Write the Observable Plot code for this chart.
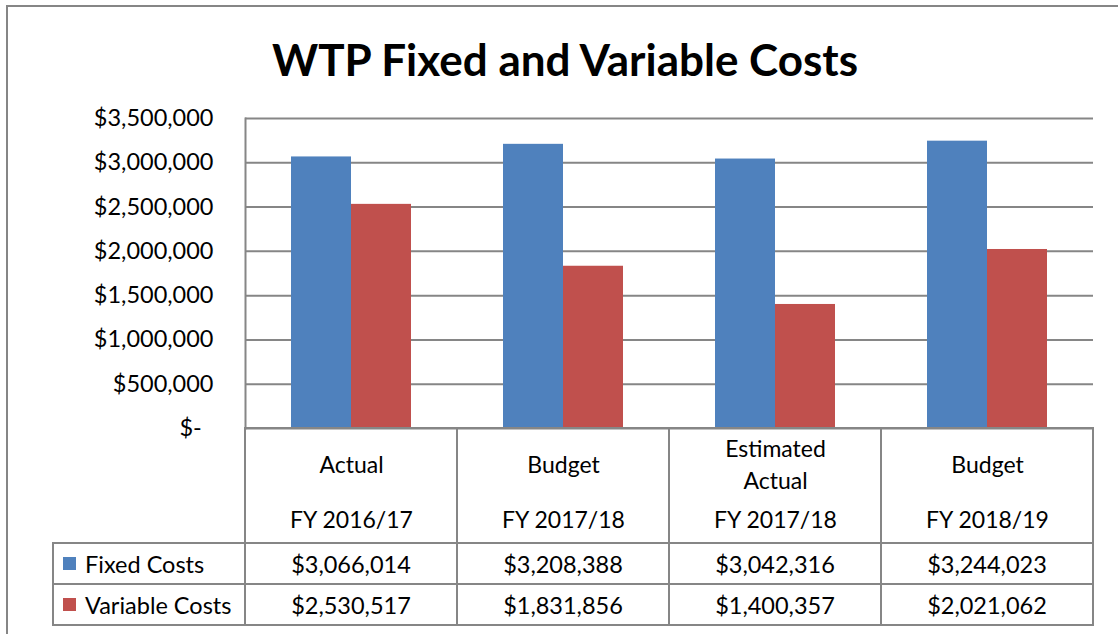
<!DOCTYPE html>
<html><head><meta charset="utf-8">
<script src="https://cdn.jsdelivr.net/npm/d3@7"></script>
<script src="https://cdn.jsdelivr.net/npm/@observablehq/plot@0.6"></script>
<style>
html,body{margin:0;padding:0;background:#fff;width:1118px;height:634px;overflow:hidden;font-family:Lato,"Open Sans",sans-serif;color:#000;}
#frame{position:absolute;left:6px;top:5px;width:1200px;height:700px;border:2px solid #868686;box-sizing:border-box;}
#title{position:absolute;left:0;width:1130px;top:33px;text-align:center;font-weight:bold;font-size:44px;line-height:52px;}
#chart{position:absolute;left:0;top:100px;}
.cell{position:absolute;box-sizing:border-box;border:2px solid #868686;display:flex;align-items:center;justify-content:center;font-size:23.5px;background:#fff;}
.cell.legend{justify-content:flex-start;padding-left:9px;}
.sw{display:inline-block;width:13px;height:13px;margin-right:9px;}
</style></head><body>
<div id="frame"></div>
<div id="title">WTP Fixed and Variable Costs</div>
<div id="chart"></div>
<div id="table"></div>
<script>
const periods = ["Actual", "Budget", "Estimated\nActual", "Budget"];
const fiscalYears = ["FY 2016/17", "FY 2017/18", "FY 2017/18", "FY 2018/19"];
const seriesNames = ["Fixed Costs", "Variable Costs"];
const fixedCosts = [3066014, 3208388, 3042316, 3244023];
const variableCosts = [2530517, 1831856, 1400357, 2021062];
const seriesColors = ["#4f81bd", "#c0504d"];
const yTicks = [0, 500000, 1000000, 1500000, 2000000, 2500000, 3000000, 3500000];

const categories = periods.map((p, i) => p + "|" + fiscalYears[i]);
const fixedRows = categories.map((c, i) => ({category: c, series: seriesNames[0], value: fixedCosts[i]}));
const variableRows = categories.map((c, i) => ({category: c, series: seriesNames[1], value: variableCosts[i]}));

const money = d3.format("$,.0f");
const tickFmt = d => d === 0 ? "$-\u2002" : money(d);
const gray = "#868686";

const chart = Plot.plot({
  width: 1118,
  height: 443,
  marginLeft: 245,
  marginRight: 25,
  marginTop: 18,
  marginBottom: 115,
  x: {domain: categories, padding: 0, axis: null},
  y: {domain: [0, 3500000], axis: null},
  color: {domain: seriesNames, range: seriesColors},
  style: {fontFamily: "Lato, 'Open Sans', sans-serif", fontSize: "23px", color: "#000", background: "transparent", overflow: "visible"},
  marks: [
    Plot.gridY(yTicks, {stroke: gray, strokeOpacity: 1, strokeWidth: 2}),
    Plot.axisY(yTicks, {tickSize: 0, tickPadding: 32, tickFormat: tickFmt, fontSize: 23.5, fill: "#000", label: null}),
    Plot.barY(fixedRows, {x: "category", y: "value", fill: "series", insetLeft: 46, insetRight: 106}),
    Plot.barY(variableRows, {x: "category", y: "value", fill: "series", insetLeft: 106, insetRight: 46}),
    Plot.barY(categories, {x: d => d, y1: 0, y2: 0, fill: "none", stroke: gray, strokeWidth: 2, insetBottom: -115}),
    Plot.frame({anchor: "left", stroke: gray, strokeWidth: 2}),
    Plot.text(categories, {x: d => d, text: (d, i) => periods[i], frameAnchor: "bottom", lineAnchor: "middle", dy: 34, lineHeight: 1.38, fontSize: 23, fill: "#000"}),
    Plot.text(categories, {x: d => d, text: (d, i) => fiscalYears[i], frameAnchor: "bottom", lineAnchor: "middle", dy: 92, fontSize: 23, fill: "#000"})
  ]
});
document.getElementById("chart").appendChild(chart);

// data table below the chart, aligned on the chart's x scale
const xs = chart.scale("x");
const step = xs.step ?? xs.bandwidth;
const x0 = xs.range[0];
const tableTop = 100 + 443;
const rowH = 41;
const legendLeft = 53;
const table = document.getElementById("table");
function cell(left, top, w, h, html, cls) {
  const d = document.createElement("div");
  d.className = "cell" + (cls ? " " + cls : "");
  d.style.left = (left - 1) + "px";
  d.style.top = (top - 1) + "px";
  d.style.width = (w + 2) + "px";
  d.style.height = (h + 2) + "px";
  d.innerHTML = html;
  table.appendChild(d);
}
const seriesValues = [fixedCosts, variableCosts];
seriesNames.forEach((s, r) => {
  const top = tableTop + r * rowH;
  cell(legendLeft, top, x0 - legendLeft, rowH, `<span class="sw" style="background:${seriesColors[r]}"></span>${s}`, "legend");
  categories.forEach((c, i) => {
    cell(x0 + i * step, top, step, rowH, money(seriesValues[r][i]));
  });
});
</script>
</body></html>
